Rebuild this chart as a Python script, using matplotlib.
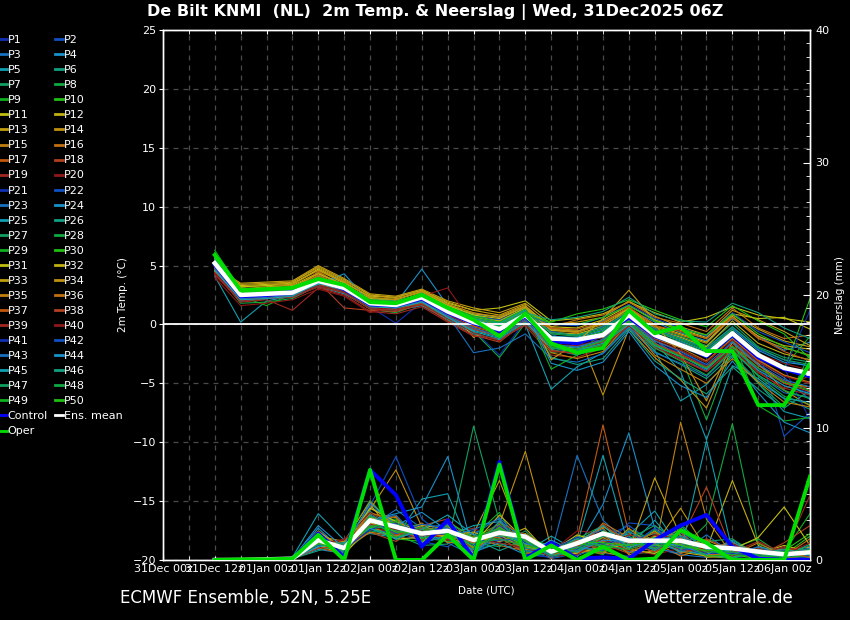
import matplotlib
matplotlib.use('Agg')
import matplotlib.pyplot as plt
from matplotlib.ticker import MultipleLocator

# ---------------- data ----------------
hours = [12, 18, 24, 30, 36, 42, 48, 54, 60, 66, 72, 78, 84, 90, 96, 102,
         108, 114, 120, 126, 132, 138, 144, 150]
tick_hours = [0, 12, 24, 36, 48, 60, 72, 84, 96, 108, 120, 132, 144]
tick_labels = ['31Dec 00z', '31Dec 12z', '01Jan 00z', '01Jan 12z', '02Jan 00z',
               '02Jan 12z', '03Jan 00z', '03Jan 12z', '04Jan 00z', '04Jan 12z',
               '05Jan 00z', '05Jan 12z', '06Jan 00z']

member_colors = ['#1030b0', '#1050c0', '#1870c0', '#1890c8', '#10a0b0',
                 '#10a080', '#10a060', '#10a840', '#10b020', '#20c010',
                 '#c0c010', '#c0b010', '#c0a010', '#c09010', '#c08010',
                 '#c07010', '#c05810', '#b04020', '#a02820', '#901818']

temp_members = [
    [5.0,2.2,2.4,2.9,3.9,2.8,1.5,0.1,1.9,0.6,-0.5,-2.6,0.3,-2.0,-1.0,-1.5,0.2,-1.6,-2.4,-3.5,-1.9,-3.8,-5.2,-5.8],
    [5.3,2.7,2.9,2.5,3.5,3.3,2.0,1.9,2.5,1.3,0.6,0.2,1.2,-0.8,-1.8,-0.3,1.0,-0.5,-1.2,-2.0,-0.2,-2.1,-3.0,-3.6],
    [4.8,2.0,2.2,2.6,4.2,3.6,1.7,1.5,2.2,0.9,-0.3,-0.9,0.5,-1.9,-2.6,-1.2,0.4,-1.3,-2.9,-3.9,-1.4,-3.2,-4.5,-6.4],
    [5.6,2.9,2.7,2.8,3.6,3.0,1.9,1.8,4.7,1.6,0.9,0.6,1.5,-0.4,-0.6,0.3,1.3,0.2,-0.7,-1.4,0.5,-1.0,-2.2,-1.5],
    [4.1,0.2,2.0,2.4,3.2,2.6,1.4,1.2,1.6,0.4,-0.8,-1.3,0.0,-5.5,-3.6,-2.4,-0.2,-2.2,-6.5,-5.1,-2.7,-5.0,-7.4,-8.0],
    [5.4,2.6,2.5,2.9,3.8,3.2,2.1,1.9,2.6,1.4,0.4,-0.2,1.0,-2.1,-2.6,-1.9,0.3,-2.3,-3.4,-4.6,-2.6,-4.8,-6.3,-7.2],
    [5.9,3.1,3.0,3.2,4.1,3.4,2.2,2.1,2.8,1.7,0.8,0.3,1.4,-0.6,-0.9,-0.1,1.2,-0.3,-1.0,-1.8,0.1,-1.9,-2.8,-3.2],
    [4.5,1.8,1.9,2.2,3.3,2.7,1.3,1.0,1.8,0.5,-0.6,-2.8,0.1,-2.4,-2.1,-1.8,0.0,-1.9,-2.7,-8.1,-2.1,-4.4,-6.1,-6.8],
    [5.2,2.4,1.6,2.6,3.7,3.1,1.8,1.6,2.3,1.0,0.1,-0.5,0.7,-1.3,-1.4,-0.8,0.6,-1.0,-1.7,-2.7,-0.8,-2.6,-3.6,-1.0],
    [6.1,2.8,3.1,3.0,4.0,3.0,1.9,1.7,2.1,1.2,0.3,-0.3,0.9,-1.0,-1.2,-0.6,0.8,-0.8,-1.5,-2.4,-0.6,-2.4,-3.9,2.2],
    [5.3,3.3,3.4,3.5,4.6,3.5,2.4,2.3,2.9,1.8,1.2,1.4,2.0,0.3,0.5,0.9,1.9,1.0,0.2,0.6,1.5,0.8,0.5,0.2],
    [5.1,3.0,3.2,3.3,4.4,3.3,2.2,2.0,2.5,1.5,-1.1,0.0,1.1,-0.7,-0.8,-0.2,1.4,-0.4,-1.1,-1.9,0.3,-1.6,-2.5,-3.0],
    [4.9,3.5,3.6,3.7,5.0,3.9,2.6,2.4,3.0,2.0,1.4,1.0,1.8,0.0,0.2,0.6,2.0,0.7,-0.2,-0.9,1.2,0.4,-0.6,-1.8],
    [5.5,3.2,3.3,3.6,4.8,3.7,2.5,2.2,2.7,1.7,0.9,0.7,1.6,-0.3,-0.5,-6.0,-0.4,-2.8,-4.7,-7.1,-1.9,-3.3,-5.6,-6.9],
    [4.6,2.9,2.8,3.1,4.3,3.4,2.0,1.9,2.6,1.3,0.5,0.1,1.3,-0.5,-0.7,0.0,1.1,-0.2,-0.9,-1.6,0.6,-1.2,-2.0,-2.6],
    [5.0,2.6,2.7,2.7,4.5,3.2,1.6,1.4,2.0,0.8,-0.1,-0.7,0.6,-0.2,0.4,0.8,1.9,0.6,0.1,-0.6,1.4,-0.3,-1.2,-0.9],
    [4.7,2.3,2.5,2.3,3.4,2.9,1.5,1.3,1.9,0.7,-0.4,-1.0,0.4,-1.7,-1.9,-1.3,0.3,-1.4,-2.2,-3.2,-1.2,-3.1,-4.3,-5.0],
    [4.4,2.1,2.3,2.4,3.6,1.4,1.2,1.1,1.7,0.3,-0.9,-1.5,0.2,-2.2,-2.5,-1.6,0.1,-1.7,-2.5,-3.6,-1.6,-3.5,-4.8,-5.5],
    [4.3,1.9,2.1,1.2,3.1,2.5,1.1,0.9,1.5,0.2,-1.0,-1.2,-0.1,-2.6,-2.8,-2.0,-0.1,-2.0,-3.0,-4.0,-2.0,-4.0,-5.5,-4.3],
    [4.0,1.6,1.8,2.1,3.0,2.4,1.0,1.5,2.4,3.1,0.0,-0.6,0.5,-1.4,-1.5,-0.9,0.7,-0.9,-1.8,-2.6,-0.7,-2.5,-3.3,-3.9],
    [5.4,2.5,2.6,2.8,3.8,3.1,1.9,1.7,2.3,1.1,0.2,-0.4,0.8,-1.1,-1.3,-0.7,0.7,-0.9,-1.6,-2.5,-0.7,-2.6,-3.7,-8.1],
    [5.7,2.7,2.8,3.0,4.0,3.3,2.0,1.8,2.4,1.4,0.6,0.4,1.3,-0.6,-1.0,-0.2,1.0,-0.4,-1.2,-2.1,-0.3,-2.0,-9.5,-7.5],
    [4.9,2.3,2.4,2.5,3.5,3.0,1.6,1.5,2.1,0.8,-2.4,-2.0,-0.8,-2.9,-3.2,-2.5,-0.3,-2.4,-3.3,-4.4,-2.3,-4.3,-5.8,-6.2],
    [5.1,2.4,2.5,2.6,3.4,4.3,1.8,1.6,2.3,1.2,0.3,-0.2,0.9,-1.0,-1.1,-0.5,0.8,-0.6,-1.4,-2.3,-0.4,-2.2,-3.2,-3.5],
    [4.6,2.0,2.2,2.3,3.3,2.8,1.4,1.3,1.9,0.6,-0.5,-1.1,0.3,-1.8,-2.0,-1.4,0.2,-1.5,-4.0,-9.8,-3.5,-4.6,-6.3,-6.6],
    [5.3,2.6,2.7,2.8,3.9,3.2,1.9,1.8,2.4,1.2,0.4,0.0,1.0,-2.8,-3.4,-2.9,-0.4,-3.1,-4.6,-5.9,-3.6,-5.5,-7.1,-5.6],
    [5.8,2.9,3.0,3.1,3.9,3.3,2.1,2.0,2.6,1.5,0.7,0.2,1.3,-0.7,-0.9,-0.3,1.1,-0.5,-1.2,-2.0,-0.2,-2.0,-3.0,-3.4],
    [5.5,2.7,2.8,2.9,3.6,3.1,1.9,1.7,2.5,1.3,0.5,-0.1,1.1,-0.8,-1.0,-0.4,0.9,-0.6,-1.3,-2.2,-0.4,-5.0,-7.0,-2.5],
    [6.3,3.0,2.9,3.2,3.8,3.4,2.0,1.8,2.7,1.6,0.8,0.1,1.2,-3.8,-2.6,-0.6,0.6,-1.1,-1.9,-2.8,-1.1,-6.9,-8.2,-7.9],
    [5.9,2.8,2.7,3.0,3.7,3.2,1.9,1.7,2.4,1.3,0.4,-0.2,1.0,0.2,0.9,1.3,2.1,1.2,0.4,-0.2,1.6,0.3,-0.8,-2.9],
    [5.0,3.2,3.3,3.4,4.7,3.6,2.3,2.1,2.8,1.6,0.8,0.5,1.5,-0.2,-0.3,0.4,1.6,0.4,-0.4,-1.1,0.9,0.5,0.6,-0.4],
    [5.2,3.1,3.0,3.2,4.3,3.4,2.1,1.9,2.6,1.4,0.6,0.3,1.4,-0.5,-0.6,0.1,1.3,-0.1,-0.8,-1.5,0.7,-1.0,-1.8,-2.1],
    [4.8,3.4,3.5,3.6,4.9,3.8,2.5,2.3,2.9,1.9,1.2,0.8,1.7,-3.0,-1.5,0.5,2.9,0.3,-0.5,-1.2,0.8,-0.4,-1.4,-1.9],
    [5.6,3.0,3.1,3.4,4.6,3.6,2.3,2.1,2.8,1.7,1.0,0.6,1.5,-0.4,-0.6,0.2,1.4,0.0,-2.5,-6.5,-1.5,-3.4,-5.0,-5.3],
    [4.5,2.7,2.8,3.0,4.1,3.3,2.0,1.8,2.5,1.3,0.4,0.0,1.1,-2.4,-2.9,-2.3,0.1,-2.6,-3.8,-5.0,-2.9,-4.9,-6.6,-7.0],
    [5.1,2.5,2.6,2.9,4.2,3.1,1.7,1.6,2.2,1.0,0.0,-0.6,0.6,-1.4,-1.6,-1.1,0.4,-1.2,-2.0,-3.1,-1.2,-3.0,-4.3,-4.9],
    [4.9,2.4,2.5,2.6,3.8,3.0,1.6,1.4,2.0,0.9,-0.2,-0.8,0.5,-0.3,-0.4,0.2,1.5,-0.1,-0.6,-1.2,0.6,-1.1,-2.3,-3.1],
    [4.7,2.2,2.3,2.5,3.6,2.9,1.5,1.3,1.8,0.7,-0.4,-1.0,0.3,-1.9,-2.1,-1.5,0.1,-1.6,-2.6,-3.7,-1.8,-3.7,-5.0,-5.7],
    [4.2,2.0,2.2,2.3,3.2,2.7,1.3,1.2,1.7,0.5,-0.7,-1.4,0.1,-2.3,-2.4,-1.8,-0.1,-1.9,-2.9,-4.0,-2.2,-4.1,-5.4,-6.0],
    [4.4,2.1,2.3,2.4,3.3,2.8,1.4,1.3,2.1,0.9,-0.3,-0.9,0.4,-1.7,-1.8,-1.3,0.2,-1.3,-2.2,-3.2,-1.3,-3.2,-4.4,-5.0],
    [5.0,2.3,2.4,2.7,3.9,3.1,1.7,1.5,2.2,1.0,0.1,-0.5,0.7,-1.3,-1.5,-0.9,0.5,-1.1,-1.8,-2.8,-0.9,-2.8,-3.9,1.2],
    [5.2,2.6,2.7,2.9,3.7,3.2,1.8,1.6,2.3,1.2,0.2,-0.3,0.9,0.0,-0.1,0.6,1.7,0.5,-0.3,-1.0,1.0,-0.6,-1.5,-2.4],
    [4.8,2.2,2.3,2.5,3.6,3.0,1.6,1.4,2.0,0.7,-0.3,-1.0,0.4,-1.7,-1.9,-1.3,0.3,-1.4,-2.3,-3.4,-1.5,-3.4,-4.7,-5.3],
    [5.4,2.6,2.7,2.8,3.8,3.4,2.0,1.8,2.5,1.4,0.5,0.1,1.2,-3.3,-3.9,-3.2,-0.6,-3.5,-5.2,-6.2,-3.1,-5.8,-8.3,-9.2],
    [4.6,2.1,2.2,2.4,3.5,2.9,1.5,1.4,1.9,0.6,-0.6,-1.2,0.2,-2.0,-2.2,-1.6,0.0,-1.8,-2.7,-3.8,-1.9,-3.9,-5.2,-5.9],
    [5.5,2.7,2.8,3.0,3.9,3.3,1.9,1.7,2.4,1.3,0.4,-0.1,1.0,0.4,0.6,1.1,2.3,0.9,0.3,0.2,1.8,1.0,-0.3,-1.2],
    [5.1,2.5,2.6,2.7,3.7,3.1,1.8,1.6,2.3,1.1,0.2,-0.4,0.8,-1.2,-1.3,-0.7,0.6,-0.9,-1.7,-2.6,-0.8,-2.6,-3.7,-4.1],
    [5.7,2.8,2.9,3.1,3.9,3.2,2.0,1.8,2.5,1.4,0.6,0.0,1.1,-2.0,-2.3,-1.7,0.2,-2.0,-3.1,-4.3,-2.2,-4.3,-5.6,-6.3],
    [6.0,2.9,3.0,3.2,4.0,3.3,2.1,1.9,2.6,1.5,0.7,0.2,1.3,-1.9,-2.1,-1.4,0.3,-1.7,-2.7,-3.7,-1.9,-3.7,-4.9,-5.6],
    [5.8,2.7,2.8,3.0,3.8,3.1,1.9,1.7,2.4,1.2,0.3,-0.3,0.9,0.1,0.0,0.6,1.6,0.3,-0.4,-0.9,0.9,-0.8,-1.9,-2.7],
]

precip_members = [
    [0,0,0,0.1,1.2,0.4,2.8,1.5,1.8,2.0,0.6,3.0,0.4,0.2,1.1,0.5,0.3,1.6,0.8,0.3,0.2,0.5,0.1,0.2],
    [0,0,0,0.1,2.0,0.8,3.2,2.2,1.4,1.0,2.2,1.8,0.9,0.1,0.5,1.7,2.6,1.2,0.7,1.3,0.4,0.2,0.3,0.9],
    [0,0,0,0.1,1.6,1.1,2.5,3.8,2.4,1.3,0.3,2.6,0.2,0.5,7.9,3.0,1.2,0.9,0.4,0.2,1.1,0.6,0.2,0.1],
    [0,0,0,0.1,0.8,0.5,4.0,2.9,1.6,2.9,1.0,1.4,1.8,0.3,0.9,4.2,9.6,2.4,1.0,0.5,0.2,0.3,0.1,0.4],
    [0,0,0,0.2,3.5,1.5,2.0,1.7,4.6,5.0,0.4,2.3,0.6,1.8,0.7,2.1,1.9,3.7,0.8,0.6,1.5,0.4,0.9,0.3],
    [0,0,0,0.1,1.4,0.9,3.5,2.6,2.0,1.8,1.6,0.7,1.5,0.2,1.8,0.9,1.4,2.0,1.2,0.4,0.3,0.8,0.2,0.6],
    [0,0,0,0.1,1.9,0.6,2.2,1.9,1.1,1.2,10.1,2.9,0.8,0.4,0.3,1.3,0.6,0.5,1.9,0.7,0.5,0.1,0.4,0.2],
    [0,0,0,0.1,1.0,1.3,4.5,2.4,2.7,2.4,0.8,1.2,1.1,0.9,1.6,2.6,1.0,1.8,0.5,1.2,0.9,1.6,0.3,0.5],
    [0,0,0,0.1,1.5,0.7,2.9,3.1,1.5,1.6,1.8,3.6,0.3,0.6,0.9,0.4,2.3,1.5,2.7,0.9,0.6,0.3,0.6,3.5],
    [0,0,0,0.1,1.3,1.2,3.0,2.0,2.2,2.6,0.9,2.1,1.3,0.2,0.6,1.9,0.7,1.1,0.9,0.3,0.1,0.9,0.4,1.8],
    [0,0,0,0.1,1.1,0.4,2.6,1.6,1.7,1.9,1.3,2.5,0.8,0.7,1.3,0.8,1.6,1.0,1.4,0.6,0.7,0.5,1.1,0.6],
    [0,0,0,0.1,1.7,1.0,3.3,2.7,1.3,2.8,1.1,1.6,2.4,0.3,0.4,1.1,0.9,2.2,0.6,0.8,6.0,1.1,0.2,0.3],
    [0,0,0,0.1,1.8,0.9,4.2,1.8,2.1,1.4,2.0,6.0,1.0,0.5,1.0,1.5,1.3,0.6,1.6,0.2,0.3,0.7,0.5,0.4],
    [0,0,0,0.1,1.4,0.6,3.8,6.8,2.5,2.1,0.5,2.7,8.2,0.9,0.8,0.6,0.2,1.4,2.3,1.0,0.9,0.2,0.3,0.8],
    [0,0,0,0.1,1.2,1.4,2.4,2.1,1.9,2.2,1.4,1.9,1.4,0.4,1.4,2.4,0.4,0.7,10.4,3.1,0.4,0.5,0.2,0.1],
    [0,0,0,0.1,2.2,0.8,2.7,3.3,1.2,2.5,1.7,1.1,0.7,1.3,0.5,2.8,1.7,1.3,0.3,0.9,1.3,0.6,0.7,1.0],
    [0,0,0,0.1,0.9,0.5,3.6,2.8,2.3,1.7,0.7,2.4,1.9,0.1,1.6,10.2,2.0,0.8,1.1,0.5,0.2,0.9,0.4,0.3],
    [0,0,0,0.1,1.6,1.1,2.1,1.4,2.6,3.1,1.2,2.2,0.5,0.8,1.0,1.2,0.5,1.9,0.7,1.6,0.8,0.3,1.3,2.6],
    [0,0,0,0.1,1.3,0.7,3.1,2.5,1.6,2.0,2.4,1.5,1.2,0.3,0.7,0.7,1.1,1.5,1.3,0.4,0.6,1.4,0.5,4.9],
    [0,0,0,0.1,1.0,1.6,2.6,1.9,2.0,1.5,0.9,2.8,0.6,0.6,2.2,2.0,0.8,0.4,0.9,0.7,0.3,0.2,0.9,0.7],
    [0,0,0,0.1,1.5,0.3,3.4,2.3,1.8,2.3,1.6,1.7,1.6,0.2,0.9,1.4,1.5,1.2,2.0,1.1,0.4,0.4,0.1,0.2],
    [0,0,0,0.1,1.7,1.2,4.1,7.8,3.1,1.6,0.4,2.0,0.9,0.7,0.4,0.9,2.8,2.6,1.0,0.3,1.0,0.7,0.3,0.5],
    [0,0,0,0.1,1.1,0.9,2.3,2.0,2.4,2.7,1.9,3.2,1.3,0.4,1.5,2.3,0.6,0.9,0.5,1.9,0.5,0.6,0.8,0.3],
    [0,0,0,0.1,2.4,0.6,3.0,3.5,4.0,7.8,0.6,1.3,0.4,1.5,0.6,1.8,1.3,1.7,1.5,0.8,0.7,0.4,0.2,0.6],
    [0,0,0,0.1,1.4,1.0,2.7,2.4,1.5,1.8,2.6,2.9,1.7,0.2,1.2,7.9,1.0,3.0,0.7,0.4,0.2,1.0,0.6,0.4],
    [0,0,0,0.1,0.7,1.3,3.7,1.7,2.2,2.0,1.1,2.3,1.1,0.8,1.7,1.1,1.8,0.7,2.6,0.6,0.9,0.5,0.3,1.2],
    [0,0,0,0.1,1.9,0.8,2.4,2.6,1.9,2.5,1.3,1.0,2.2,0.3,0.8,0.8,2.1,1.4,1.2,1.4,1.6,0.3,0.4,0.2],
    [0,0,0,0.1,1.2,0.5,3.3,2.2,1.7,1.4,1.5,2.5,0.7,0.5,1.3,1.6,0.9,2.3,0.8,2.7,10.3,1.2,0.5,0.9],
    [0,0,0,0.1,1.6,1.0,2.9,3.0,2.3,2.2,0.8,1.8,1.8,1.0,0.6,2.2,1.4,1.1,1.7,0.5,0.6,0.8,0.2,0.4],
    [0,0,0,0.1,1.3,0.7,2.5,1.6,1.4,2.9,1.7,2.7,0.6,0.4,1.1,0.6,1.6,1.6,0.9,0.9,0.4,0.1,0.7,2.0],
    [0,0,0,0.1,1.0,1.1,3.9,2.9,2.1,1.7,1.0,2.2,1.0,0.6,1.9,1.3,0.8,0.5,1.4,1.2,0.8,1.7,4.0,1.1],
    [0,0,0,0.1,2.1,0.9,2.8,2.1,2.6,2.4,1.2,3.4,1.5,0.3,0.5,1.0,1.2,1.8,0.6,0.3,0.5,0.4,0.6,0.3],
    [0,0,0,0.1,1.5,0.4,3.2,2.7,1.6,1.9,2.1,1.4,2.0,0.7,1.0,1.7,0.7,6.2,1.8,0.6,0.3,0.9,0.3,0.5],
    [0,0,0,0.1,1.8,1.4,4.4,2.4,1.8,2.6,0.5,2.6,1.2,0.2,1.4,2.5,1.5,1.2,3.9,0.8,1.1,0.2,0.4,0.7],
    [0,0,0,0.1,1.2,0.8,2.1,1.8,2.8,1.3,1.4,1.9,0.8,0.9,0.7,0.5,2.4,0.9,1.2,1.5,0.7,0.6,0.8,0.4],
    [0,0,0,0.1,1.7,1.2,3.5,3.2,1.2,2.3,0.9,2.4,1.4,0.5,1.2,1.9,0.5,1.5,2.1,0.4,0.4,1.3,0.3,1.6],
    [0,0,0,0.1,1.4,0.6,2.6,2.5,2.0,1.6,1.8,1.7,0.5,0.6,1.5,1.4,1.1,2.1,0.5,1.0,0.9,0.5,0.6,0.2],
    [0,0,0,0.1,0.9,1.0,3.1,1.9,2.4,2.1,1.3,2.8,1.9,0.4,0.9,2.7,1.3,0.6,1.5,5.5,0.6,0.7,0.2,0.8],
    [0,0,0,0.1,1.6,0.7,2.7,2.3,1.5,2.8,0.7,2.0,1.1,0.7,1.1,0.9,1.9,1.4,0.8,0.6,1.2,0.4,1.0,0.5],
    [0,0,0,0.1,1.3,1.5,3.6,2.1,2.2,1.5,1.6,1.3,0.9,0.3,0.4,1.6,0.7,1.9,1.6,0.7,0.3,0.9,0.4,1.3],
    [0,0,0,0.1,1.9,0.8,2.3,2.8,1.9,2.0,1.1,2.6,1.3,0.8,1.7,1.2,1.7,1.0,1.0,0.5,0.5,0.3,0.2,0.6],
    [0,0,0,0.1,1.1,1.1,3.0,2.0,2.7,2.4,1.4,1.5,1.6,0.2,0.8,2.0,1.0,2.4,0.7,1.2,0.8,0.6,0.7,0.3],
    [0,0,0,0.1,1.5,0.6,2.9,3.4,1.3,1.8,2.3,3.1,0.7,0.5,1.0,0.7,2.2,0.8,1.8,0.9,0.4,1.0,0.3,0.9],
    [0,0,0,0.1,2.6,0.9,4.3,2.6,3.6,2.2,0.6,2.1,1.2,1.2,0.6,1.5,1.4,1.3,1.1,0.4,1.4,0.2,0.5,0.4],
    [0,0,0,0.1,1.0,1.3,2.4,1.6,2.3,3.4,1.9,1.8,1.9,0.4,1.3,2.6,0.9,1.6,0.6,9.0,0.7,0.8,0.2,0.7],
    [0,0,0,0.1,1.8,0.5,3.4,2.4,1.7,1.7,0.8,2.9,0.9,0.6,1.6,1.0,1.2,1.1,2.2,0.8,0.2,0.5,0.8,0.5],
    [0,0,0,0.1,1.4,1.2,2.6,2.2,2.0,2.6,1.5,2.3,1.4,0.3,0.7,1.8,1.6,2.6,1.3,0.6,0.6,0.4,0.3,1.1],
    [0,0,0,0.1,1.2,0.7,3.1,1.7,2.5,1.9,1.2,1.6,1.0,0.9,1.2,1.1,0.8,1.4,0.9,1.0,0.9,0.7,0.6,0.4],
    [0,0,0,0.1,1.6,1.0,2.5,2.9,1.6,2.3,1.7,2.4,1.5,0.5,0.9,2.1,1.5,0.9,1.5,0.3,0.4,0.3,0.2,0.8],
    [0,0,0,0.1,1.3,0.8,3.2,2.1,2.1,2.1,1.0,2.0,1.1,0.6,1.4,1.3,1.1,1.7,1.1,0.7,0.8,0.6,0.4,0.5],
]

control_temp = [5.1,2.4,2.5,2.7,3.8,3.0,1.7,1.6,2.2,1.0,0.1,-0.6,0.7,-1.4,-1.6,-0.9,0.6,-1.0,-1.7,-2.7,-0.9,-2.8,-3.8,-4.4]
mean_temp = [5.2,2.5,2.6,2.7,3.7,3.1,1.8,1.65,2.3,1.1,0.2,-0.4,0.8,-1.2,-1.3,-0.9,0.8,-0.9,-1.75,-2.6,-0.75,-2.6,-3.7,-4.15]
oper_temp = [5.9,2.9,3.0,3.1,3.85,3.35,1.9,1.8,2.5,1.4,0.4,-1.0,0.9,-1.6,-2.4,-2.0,1.2,-0.75,-0.2,-2.26,-2.26,-6.85,-6.85,-3.3]

control_precip = [0,0,0,0.1,2.0,0.2,6.8,4.9,1.0,3.0,0.1,7.4,0.1,1.3,0.1,0.2,0.1,1.5,2.6,3.4,1.0,0.1,0,0]
mean_precip = [0,0,0.05,0.1,1.5,0.9,3.0,2.5,2.0,2.2,1.5,2.06,1.76,0.63,1.26,2.0,1.46,1.46,1.46,1.0,0.88,0.63,0.43,0.58]
oper_precip = [0,0.05,0.05,0.1,1.9,0,6.8,0,0,1.9,0,7.2,0,1.1,0,1.0,0,0.1,2.26,1.3,0,0,0,6.3]

title = 'De Bilt KNMI  (NL)  2m Temp. & Neerslag | Wed, 31Dec2025 06Z'

# ---------------- figure ----------------
W, H = 850, 620
fig = plt.figure(figsize=(W / 100, H / 100), dpi=100, facecolor='black')
ax = fig.add_axes([163 / W, 1 - 560 / H, (810 - 163) / W, (560 - 30) / H],
                  facecolor='black')
ax2 = ax.twinx()

grid_kw = dict(color='#4a4a4a', linestyle=(0, (4, 4)), linewidth=0.9)

ax.set_xlim(0, 150)
ax.set_ylim(-20, 25)
ax2.set_ylim(0, 40)

ax.set_xticks(tick_hours)
ax.set_xticklabels(tick_labels)
ax.set_xticks(list(range(6, 150, 6)), minor=True)
ax.set_yticks(list(range(-20, 26, 5)))
ax.grid(True, which='both', axis='x', **grid_kw)
ax.grid(True, which='major', axis='y', **grid_kw)
ax.set_axisbelow(True)

ax2.set_yticks([0, 10, 20, 30, 40])
ax2.yaxis.set_minor_locator(MultipleLocator(1))

for a in (ax, ax2):
    for s in a.spines.values():
        s.set_color('white')
        s.set_linewidth(1.0)

ax.tick_params(axis='x', which='both', colors='white', labelsize=8,
               direction='in', length=3, top=True, pad=3)
ax.tick_params(axis='y', colors='white', labelsize=8, direction='out',
               length=3, pad=2)
ax2.tick_params(axis='y', which='major', colors='white', labelsize=8,
                direction='in', length=5, pad=4)
ax2.tick_params(axis='y', which='minor', colors='white', direction='in',
                length=3)

handles = {}
for i, vals in enumerate(temp_members):
    ln, = ax.plot(hours, vals, color=member_colors[i % 20], lw=0.8)
    handles['P%d' % (i + 1)] = ln
ax.axhline(0, color='white', lw=1.3, zorder=2.5)
handles['Control'], = ax.plot(hours, control_temp, color='#0000ff', lw=2.8, zorder=3)
handles['Ens. mean'], = ax.plot(hours, mean_temp, color='white', lw=3.2, zorder=3.2)
handles['Oper'], = ax.plot(hours, oper_temp, color='#00dd00', lw=2.8, zorder=3.4)

for i, vals in enumerate(precip_members):
    ax2.plot(hours, vals, color=member_colors[i % 20], lw=0.8)
ax2.plot(hours, control_precip, color='#0000ff', lw=2.8, zorder=3)
ax2.plot(hours, mean_precip, color='white', lw=3.2, zorder=3.2)
ax2.plot(hours, oper_precip, color='#00dd00', lw=2.8, zorder=3.4)

ax.set_xlabel('Date (UTC)', color='white', fontsize=7.5, labelpad=8)
ax.set_ylabel('2m Temp. (\u00b0C)', color='white', fontsize=7.5, labelpad=3)
ax2.set_ylabel('Neerslag (mm)', color='white', fontsize=7.5, labelpad=4)

# legend: row-major order P1 P2 / P3 P4 / ... / Control Ens. mean / Oper
col1 = ['P%d' % k for k in range(1, 51, 2)] + ['Control', 'Oper']
col2 = ['P%d' % k for k in range(2, 51, 2)] + ['Ens. mean']
order = col1 + col2
leg_handles = []
for name in order:
    h = handles[name]
    proxy = plt.Line2D([], [], color=h.get_color(), lw=2.0)
    leg_handles.append(proxy)
leg = fig.legend(leg_handles, order, loc='upper left',
                 bbox_to_anchor=(-0.002, 1 - 35 / H), ncol=2, frameon=False,
                 fontsize=8, handlelength=0.75, handletextpad=0.08,
                 columnspacing=0.62, labelspacing=0.455, borderpad=0,
                 borderaxespad=0)
for t in leg.get_texts():
    t.set_color('white')

fig.text(435 / W, 1 - 12 / H, title, ha='center', va='center',
         fontsize=11.5, fontweight='bold', color='white')
fig.text(120 / W, 1 - 598 / H, 'ECMWF Ensemble, 52N, 5.25E', ha='left',
         va='center', fontsize=12, color='white')
fig.text(793 / W, 1 - 598 / H, 'Wetterzentrale.de', ha='right',
         va='center', fontsize=12, color='white')

fig.savefig('out.png', dpi=100, facecolor='black')
